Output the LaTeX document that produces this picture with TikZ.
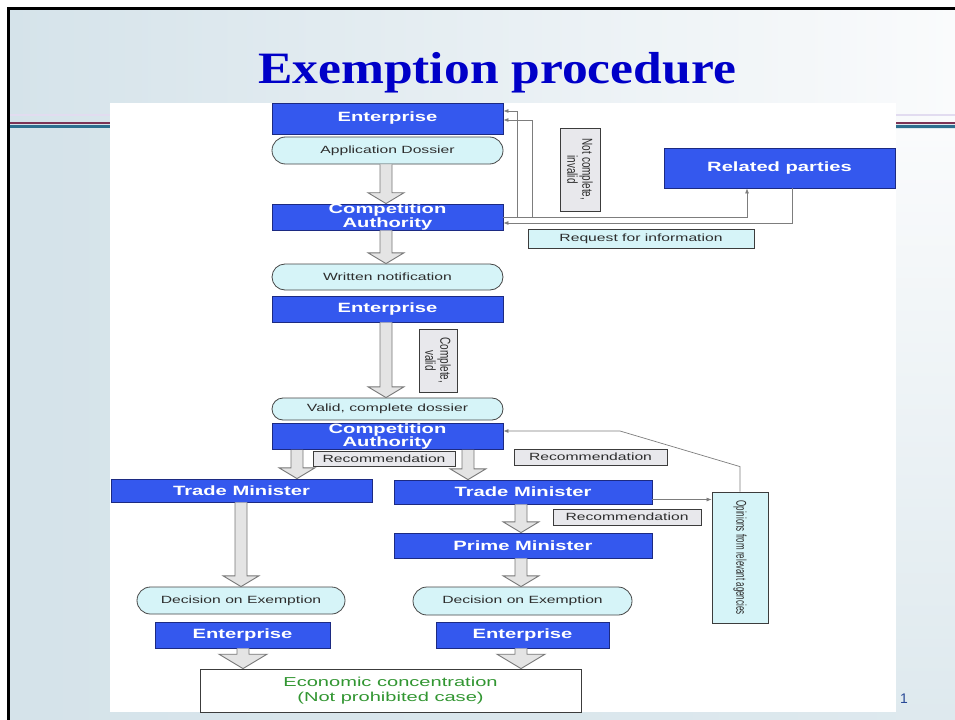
\documentclass[tikz,border=0pt]{standalone}
\usepackage{fontspec}
\setmainfont{Liberation Sans}
\newfontfamily\headfont{Liberation Serif}
\usepackage{graphicx}
\usetikzlibrary{shapes.misc,arrows.meta,calc}

\definecolor{blueface}{RGB}{52,88,238}
\definecolor{bluedark}{RGB}{28,42,130}
\definecolor{pillfill}{RGB}{214,244,248}
\definecolor{pilledge}{RGB}{70,70,70}
\definecolor{pilltext}{RGB}{45,45,45}
\definecolor{tagfill}{RGB}{232,232,236}
\definecolor{tagedge}{RGB}{60,60,60}
\definecolor{arrowfill}{RGB}{228,228,228}
\definecolor{arrowedge}{RGB}{120,120,120}
\definecolor{connline}{RGB}{125,125,125}
\definecolor{titleblue}{RGB}{0,0,200}
\definecolor{econgreen}{RGB}{50,150,50}
\definecolor{pagenum}{RGB}{40,72,150}
\definecolor{bgA}{RGB}{213,227,234}
\definecolor{bgB}{RGB}{222,233,238}
\definecolor{bgTop}{RGB}{250,251,252}
\definecolor{bgMid}{RGB}{236,242,245}
\definecolor{bandRed}{RGB}{124,51,85}
\definecolor{bandTeal}{RGB}{45,110,142}
\definecolor{bandLav}{RGB}{226,220,240}

% horizontal stretch used by every label of the chart
\newcommand\sx[1]{\scalebox{1.5}[1]{#1}}
% text stretched across its reading direction, for the turned labels
\newcommand\sy[1]{\scalebox{1}[1.45]{#1}}

% hollow block arrow: [head half-width], x position, start anchor, tip anchor
\newcommand\blockarrow[4][18]{%
  \draw[hollow] let \p1=(#3), \p2=(#4) in
    ({#2bp-6bp},\y1) -- ({#2bp-6bp},\y2+#1bp*0.6) -- ({#2bp-#1bp},\y2+#1bp*0.6)
    -- ({#2bp},\y2) -- ({#2bp+#1bp},\y2+#1bp*0.6) -- ({#2bp+6bp},\y2+#1bp*0.6)
    -- ({#2bp+6bp},\y1);}

\tikzset{
  bluebox/.style={draw=bluedark, line width=0.8bp, fill=blueface, text=white,
    inner sep=0pt, align=center, font=\bfseries\fontsize{13.5}{12}\selectfont},
  pill/.style={rounded rectangle, draw=pilledge, line width=0.8bp, fill=pillfill,
    inner sep=0pt, text=pilltext, font=\fontsize{10.5}{12}\selectfont},
  tag/.style={draw=tagedge, line width=0.8bp, fill=tagfill, inner sep=0pt,
    text=pilltext, align=center, font=\fontsize{10.5}{12}\selectfont},
  turned/.style={tag, rotate=-90, font=\fontsize{10}{15}\selectfont},
  hollow/.style={draw=arrowedge, fill=arrowfill, line width=0.9bp, line join=miter},
  conn/.style={draw=connline, line width=0.7bp},
  tip/.style={-{Latex[length=5bp,width=4bp]}}
}

\begin{document}
\begin{tikzpicture}[x=1bp,y=-1bp]
\useasboundingbox (0,0) rectangle (955,720);

% slide background
\fill[white] (0,0) rectangle (955,720);
\shade[left color=bgA, right color=bgB] (10,122) rectangle (955,720);
\shade[left color=bgA, middle color=bgMid, right color=bgTop] (10,10) rectangle (955,122);
\shade[top color=bgTop, bottom color=bgB] (896,130) rectangle (955,720);
\draw[bandLav, line width=1.5bp] (10,115) -- (955,115);
\draw[bandRed, line width=2bp] (10,123.5) -- (955,123.5);
\draw[bandTeal, line width=3bp] (10,127) -- (955,127);
\fill[black] (7,7) rectangle (955,10);
\fill[black] (7,7) rectangle (10,720);

% title
\node[anchor=base, text=titleblue, font=\headfont\bfseries\fontsize{45}{50}\selectfont]
  (title) at (497,84) {\scalebox{1.15}[1]{Exemption procedure}};

% chart panel
\fill[white] (110,103) rectangle (896,712);

% main column
\node[bluebox, minimum width=231bp, minimum height=31bp] (ent1) at (387.5,118.5) {\sx{Enterprise}};
\node[pill, minimum width=231bp, minimum height=27bp] (appd) at (387.5,150.5) {\sx{Application Dossier}};
\node[bluebox, minimum width=231bp, minimum height=24bp] (ca1) at (387.5,217) {\sx{Competition}\\\sx{Authority}};
\node[pill, minimum width=231bp, minimum height=26bp] (wn) at (387.5,277) {\sx{Written notification}};
\node[bluebox, minimum width=231bp, minimum height=26bp] (ent2) at (387.5,309) {\sx{Enterprise}};
\node[pill, minimum width=231bp, minimum height=22bp] (vcd) at (387.5,409) {\sx{Valid, complete dossier}};
\node[bluebox, minimum width=231bp, minimum height=25bp] (ca2) at (387.5,436.5) {\sx{Competition}\\\sx{Authority}};

% side boxes
\node[bluebox, minimum width=231bp, minimum height=40bp] (rel) at (779.5,168) {\sx{Related parties}};
\node[turned, minimum width=83bp, minimum height=40bp] (nci) at (580,169.5) {\sy{Not complete,}\\\sy{invalid}};
\node[tag, fill=pillfill, minimum width=226bp, minimum height=19bp] (req) at (641,238.5) {\sx{Request for information}};
\node[turned, minimum width=63bp, minimum height=38bp] (cv) at (438,360.5) {\sy{Complete,}\\\sy{valid}};

% two branches
\node[tag, minimum width=142bp, minimum height=15bp] (rec1) at (384,458.5) {\sx{Recommendation}};
\node[tag, minimum width=153bp, minimum height=16bp] (rec2) at (590.5,457) {\sx{Recommendation}};
\node[bluebox, minimum width=261bp, minimum height=23bp] (tm1) at (241.5,490.5) {\sx{Trade Minister}};
\node[bluebox, minimum width=258bp, minimum height=24bp] (tm2) at (523,492) {\sx{Trade Minister}};
\node[tag, minimum width=148bp, minimum height=16bp] (rec3) at (627,517) {\sx{Recommendation}};
\node[bluebox, minimum width=258bp, minimum height=25bp] (pm) at (523,545.5) {\sx{Prime Minister}};
% turned clockwise: its west anchor is the top edge, its south anchor the left edge
\node[tag, rotate=-90, fill=pillfill, font=\fontsize{9.5}{12}\selectfont,
  minimum width=131bp, minimum height=56bp] (opin) at (740,557.5)
  {\scalebox{0.84}[1.5]{Opinions from relevant agencies}};
\node[pill, minimum width=208bp, minimum height=27bp] (dec1) at (241,600.5) {\sx{Decision on Exemption}};
\node[pill, minimum width=219bp, minimum height=28bp] (dec2) at (522.5,601) {\sx{Decision on Exemption}};
\node[bluebox, minimum width=175bp, minimum height=26bp] (ent3) at (242.5,635) {\sx{Enterprise}};
\node[bluebox, minimum width=173bp, minimum height=26bp] (ent4) at (522.5,635) {\sx{Enterprise}};
\node[draw=tagedge, line width=0.8bp, fill=white, minimum width=381bp, minimum height=43bp,
  inner sep=0pt, text=econgreen, align=center, font=\fontsize{13}{15}\selectfont]
  (econ) at (390.5,690.5) {\scalebox{1.55}[1]{Economic concentration}\\\scalebox{1.55}[1]{(Not prohibited case)}};

% hollow flow arrows
\blockarrow{386}{appd.south}{ca1.north}
\blockarrow{386}{ca1.south}{wn.north}
\blockarrow{386}{ent2.south}{vcd.north}
\blockarrow{297}{ca2.south}{tm1.north}
\blockarrow{468}{ca2.south}{tm2.north}
\blockarrow{241}{tm1.south}{dec1.north}
\blockarrow{521}{tm2.south}{pm.north}
\blockarrow{521}{pm.south}{dec2.north}
\blockarrow[24]{243}{ent3.south}{econ.north}
\blockarrow[24]{521}{ent4.south}{econ.north}

% thin connectors
\draw[conn, tip] ([xshift=14bp]ca1.east) |- ([yshift=7.5bp]ent1.east);
\draw[conn, tip] ([xshift=29bp]ca1.east) |- ([yshift=-1.5bp]ent1.east);
\draw[conn, tip] (ca1.east) -| ([xshift=-32.5bp]rel.south);
\draw[conn, tip] ([xshift=12.5bp]rel.south) |- ([yshift=-6bp]ca1.east);
\coordinate (kink) at (620,431);
\draw[conn, tip] (opin.west) -- ++(0,-25) -- (kink) -- ([yshift=5.5bp]ca2.east);
\coordinate (t2o) at ([yshift=-7.5bp]tm2.east);
\draw[conn, tip] (t2o) -- (t2o -| opin.south);

% slide number
\node[anchor=base, text=pagenum, font=\fontsize{14}{14}\selectfont] (pg) at (904,703) {1};
\end{tikzpicture}
\end{document}
